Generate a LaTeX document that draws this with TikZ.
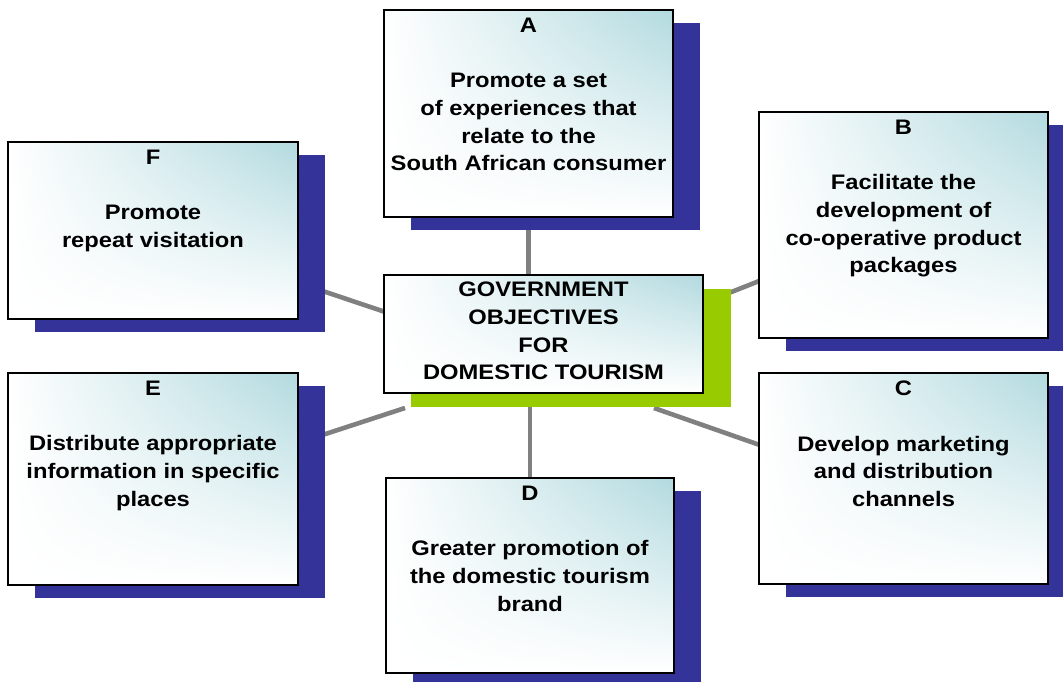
\documentclass[tikz,border=0pt]{standalone}
\usepackage{fontspec}
\setmainfont{Liberation Sans}[FakeStretch=1.13]
\usetikzlibrary{calc,shadings}
\pgfdeclarelayer{bg}
\pgfdeclarelayer{sh}
\pgfsetlayers{bg,sh,main}
\definecolor{navyshadow}{HTML}{333399}
\definecolor{limeshadow}{HTML}{99CC00}
\definecolor{paleteal}{HTML}{B2DADF}
\definecolor{linkgray}{HTML}{808080}
\begin{document}
\begin{tikzpicture}[x=1pt,y=-1pt,
  box/.style={draw=black, line width=1.4pt, upper left=white, upper right=paleteal,
    lower left=white, lower right=white, inner sep=0pt, outer sep=0pt, anchor=north west},
  boxtext/.style={anchor=north, align=center, inner sep=0pt, font=\bfseries\fontsize{21}{27.6}\selectfont},
  link/.style={draw=linkgray, line width=4.6pt},
  navyshade/.style={fill=navyshadow},
  limeshade/.style={fill=limeshadow}]
\useasboundingbox (0,0) rectangle (1063,681);
\clip (0,0) rectangle (1063,681);

% boxes
\node[box, minimum width=289pt, minimum height=207pt] (A) at (384,10) {};
\node[box, minimum width=289pt, minimum height=226pt] (B) at (759,112) {};
\node[box, minimum width=289pt, minimum height=211pt] (C) at (759,373) {};
\node[box, minimum width=288pt, minimum height=195pt] (D) at (386,478) {};
\node[box, minimum width=290pt, minimum height=212pt] (E) at (8,373) {};
\node[box, minimum width=290pt, minimum height=177pt] (F) at (8,142) {};
\node[box, minimum width=319pt, minimum height=118pt] (ctr) at (384,275) {};

% texts
\node[boxtext] (At) at ($(A.north)+(0,8)$) {A\\[27.6pt]Promote a set\\of experiences that\\relate to the\\South African consumer};
\node[boxtext] (Bt) at ($(B.north)+(0,8)$) {B\\[27.6pt]Facilitate the\\development of\\co-operative product\\packages};
\node[boxtext] (Ct) at ($(C.north)+(0,8)$) {C\\[27.6pt]Develop marketing\\and distribution\\channels};
\node[boxtext] (Dt) at ($(D.north)+(0,8)$) {D\\[27.6pt]Greater promotion of\\the domestic tourism\\brand};
\node[boxtext] (Et) at ($(E.north)+(0,8)$) {E\\[27.6pt]Distribute appropriate\\information in specific\\places};
\node[boxtext] (Ft) at ($(F.north)+(0,8)$) {F\\[27.6pt]Promote\\repeat visitation};
\node[boxtext] (ctrt) at ($(ctr.north)+(0,7)$) {GOVERNMENT\\OBJECTIVES\\FOR\\DOMESTIC TOURISM};

% shadows
\begin{pgfonlayer}{sh}
\foreach \b in {A,B,C,D,E,F}
  \fill[navyshade] ($(\b.north west)+(27,13)$) rectangle ($(\b.south east)+(27,13)$);
\fill[limeshade] ($(ctr.north west)+(27,14)$) rectangle ($(ctr.south east)+(28,14)$);
\end{pgfonlayer}

% connectors
\coordinate (eEnd) at ($(ctr.south west)+(21,15)$);
\coordinate (cStart) at ($(ctr.south east)+(-49,15)$);
\begin{pgfonlayer}{bg}
\draw[link] (A.south) -- (A.south |- ctr.north);
\draw[link] (D.north) -- (D.north |- ctr.south);
\draw[link] ($(F.north east)!0.795!(F.south east)$) -- ($(ctr.north west)!0.31!(ctr.south west)$);
\draw[link] ($(ctr.north east)!0.24!(ctr.south east)$) -- ($(B.north west)!0.748!(B.south west)$);
\draw[link] ($(E.north east)!0.33!(E.south east)$) -- (eEnd);
\draw[link] (cStart) -- ($(C.north west)!0.34!(C.south west)$);
\end{pgfonlayer}
\end{tikzpicture}
\end{document}
